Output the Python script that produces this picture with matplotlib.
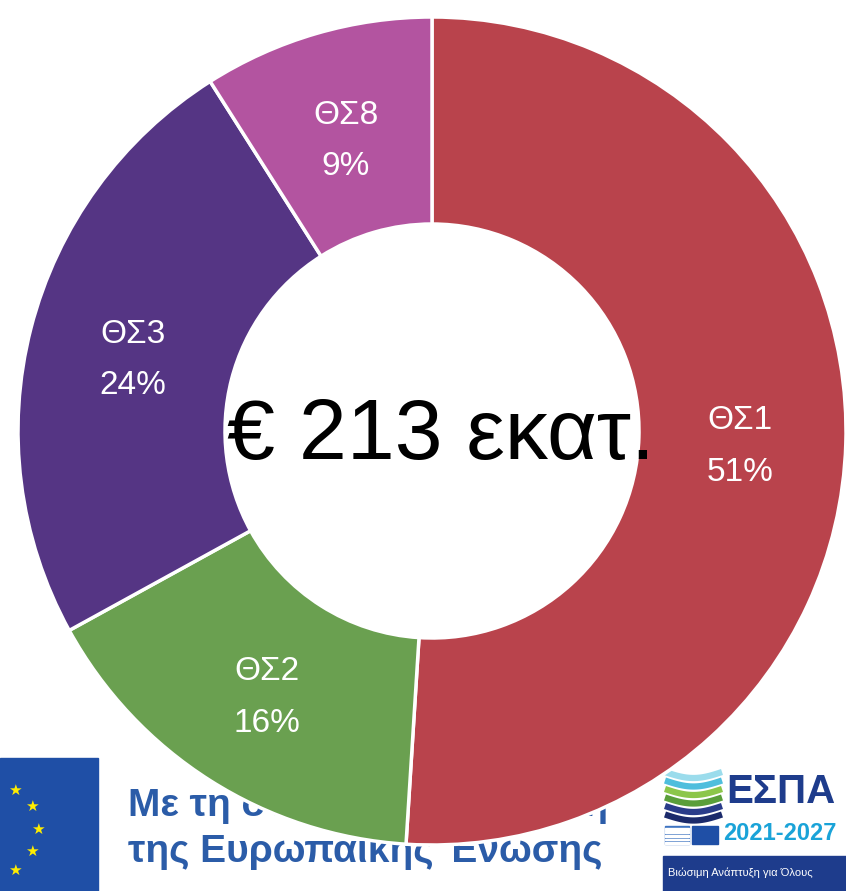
import matplotlib
matplotlib.use("Agg")
import matplotlib.pyplot as plt
from matplotlib.patches import Rectangle
import numpy as np

plt.rcParams['font.family'] = ['Liberation Sans', 'DejaVu Sans']

categories = ["ΘΣ1", "ΘΣ2", "ΘΣ3", "ΘΣ8"]
shares = [51, 16, 24, 9]
colors = ["#B9434C", "#6AA050", "#553584", "#B354A0"]
center_text = "€ 213 εκατ."

W, H = 846, 891
fig = plt.figure(figsize=(W / 100, H / 100), dpi=100)
ax = fig.add_axes([0, 0, 1, 1])

def Y(y):
    return H - y

# ---- background logos (partially hidden by the donut) ----
# EU flag
ax.add_patch(Rectangle((0, Y(891)), 98, 891 - 758, color="#1F4FA6", zorder=1))
for sx, sy in [(15, 790), (32, 806), (38, 829), (32, 851), (15, 870)]:
    ax.text(sx, Y(sy), "★", color="#FFED00", fontsize=11, ha="center", va="center",
            family=["DejaVu Sans"], zorder=2)
ax.text(128, Y(806), "Με τη συγχρηματοδότηση", color="#2B5CA8", fontsize=28,
        fontweight="bold", ha="left", va="center", zorder=2)
ax.text(128, Y(852), "της Ευρωπαϊκής Ένωσης", color="#2B5CA8", fontsize=28,
        fontweight="bold", ha="left", va="center", zorder=2)

# ESPA logo
xs = np.linspace(665, 722, 30)
for i, c in enumerate(["#9BDCEC", "#4FBEDD", "#8CC64A", "#5A9E3A", "#2A3C8A", "#1B2A6B"]):
    y0 = 772 + i * 8.5
    ys = y0 + 6 * np.sin((xs - 665) / 57 * np.pi)
    ax.plot(xs, [Y(v) for v in ys], color=c, lw=4.5, zorder=2, solid_capstyle="butt")
ax.text(726, Y(792), "ΕΣΠΑ", color="#1E3C8C", fontsize=29, fontweight="bold",
        ha="left", va="center", zorder=2)
ax.text(723, Y(833), "2021-2027", color="#1AA3D8", fontsize=17, fontweight="bold",
        ha="left", va="center", zorder=2)
ax.add_patch(Rectangle((665, Y(844)), 24, 18, color="#3E74C2", zorder=2))
for k in range(5):
    ax.add_patch(Rectangle((665, Y(844) + k * 3.6), 24, 1.8, color="white", zorder=2))
ax.add_patch(Rectangle((692, Y(844)), 26, 18, color="#1F4FA6", zorder=2))
ax.add_patch(Rectangle((663, Y(891)), 200, 891 - 856, color="#1E3C8C", zorder=2))
ax.text(668, Y(873), "Βιώσιμη Ανάπτυξη για Όλους", color="white", fontsize=8,
        ha="left", va="center", zorder=3)

# ---- donut ----
cx, cy, R = 432, Y(431), 414
wedges, _ = ax.pie(shares, colors=colors, startangle=90, counterclock=False,
                   center=(cx, cy), radius=R,
                   wedgeprops=dict(width=R * 0.5, edgecolor="white", linewidth=2.5))
for w in wedges:
    w.set_zorder(5)

label_r = 0.745 * R
angle = 90.0
total = sum(shares)
for cat, v in zip(categories, shares):
    span = 360.0 * v / total
    mid = np.deg2rad(angle - span / 2)
    angle -= span
    ax.text(cx + label_r * np.cos(mid), cy + label_r * np.sin(mid) - 6,
            f"{cat}\n{v}%", color="white", fontsize=24, ha="center", va="center",
            linespacing=1.85, zorder=6)

ax.text(441, Y(437), center_text, color="black", fontsize=62, ha="center",
        va="center", zorder=7)

ax.set_xlim(0, W)
ax.set_ylim(0, H)
ax.set_aspect("auto")
ax.axis("off")
fig.savefig("out.png", dpi=100)
